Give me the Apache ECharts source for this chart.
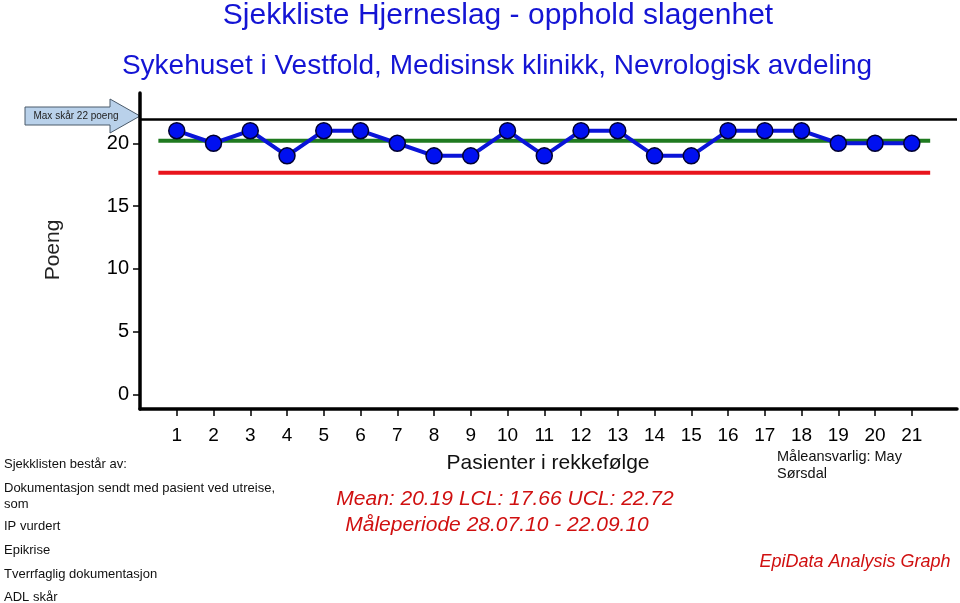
<!DOCTYPE html>
<html>
<head>
<meta charset="utf-8">
<script src="https://cdn.jsdelivr.net/npm/echarts@6/dist/echarts.min.js"></script>
<style>
html,body{margin:0;padding:0;background:#fff;}
#chart{width:960px;height:603px;}
</style>
</head>
<body>
<div id="chart"></div>
<script>
// ---- data ----
const patients = [1,2,3,4,5,6,7,8,9,10,11,12,13,14,15,16,17,18,19,20,21];
const scores   = [21,20,21,19,21,21,20,19,19,21,19,21,21,19,19,21,21,21,20,20,20];
const meanValue = [20.19];
const lclValue  = [17.66];
const uclValue  = [22.72];
const maxScore  = [21.9]; // "Max skår 22 poeng" reference line (as drawn)
const yTickLabels = [0,5,10,15,20];
const checklistItems = ["Sjekklisten består av:","Dokumentasjon sendt med pasient ved utreise,","som","IP vurdert","Epikrise","Tverrfaglig dokumentasjon","ADL skår"];

const FONT = '"Liberation Sans", Arial, Helvetica, sans-serif';
const xMin = 0, xMax = 22.23, yMin = -1.15, yMax = 24.0;

const chart = echarts.init(document.getElementById('chart'), null, {renderer:'canvas'});

const seriesData = patients.map((p,i)=>[p, scores[i]]);
const first = patients[0] - 0.5, last = patients[patients.length-1] + 0.5;

const option = {
  backgroundColor:'#ffffff',
  animation:false,
  grid:{left:140, right:3, top:93, bottom:194, containLabel:false},
  xAxis:{
    type:'value', min:xMin, max:xMax,
    axisLine:{show:true, onZero:false, lineStyle:{color:'#000', width:3.5}},
    axisTick:{show:true, length:7, lineStyle:{color:'#000', width:1.5}, customValues:patients},
    axisLabel:{show:true, margin:17, fontSize:19, color:'#000', fontFamily:FONT, customValues:patients},
    splitLine:{show:false}
  },
  yAxis:{
    type:'value', min:yMin, max:yMax,
    axisLine:{show:true, onZero:false, lineStyle:{color:'#000', width:3.5}},
    axisTick:{show:true, length:7, lineStyle:{color:'#000', width:1.5}, customValues:yTickLabels},
    axisLabel:{show:true, margin:11, fontSize:20, color:'#000', fontFamily:FONT, customValues:yTickLabels},
    splitLine:{show:false}
  },
  series:[
    {type:'line', data:[[xMin, maxScore[0]],[xMax, maxScore[0]]], symbol:'none', lineStyle:{color:'#000', width:2.5}, z:1},
    {type:'line', data:[[first, meanValue[0]],[last, meanValue[0]]], symbol:'none', lineStyle:{color:'#1f7a1f', width:4}, z:2},
    {type:'line', data:[[first, lclValue[0]],[last, lclValue[0]]], symbol:'none', lineStyle:{color:'#e8141c', width:4}, z:2},
    {type:'line', data:seriesData, symbol:'circle', symbolSize:16,
      lineStyle:{color:'#0a14d8', width:4},
      itemStyle:{color:'#0010f0', borderColor:'#000030', borderWidth:1.5}, z:3}
  ]
};

const g = [];
function txt(x,y,text,opts){
  g.push({type:'text', x:x, y:y, style:Object.assign({text:text, fill:'#000', font:'13px '+FONT, textAlign:'left', textVerticalAlign:'middle'}, opts||{})});
}
txt(498,16,'Sjekkliste Hjerneslag - opphold slagenhet',{fill:'#1414d4', font:'30px '+FONT, textAlign:'center'});
txt(497,66,'Sykehuset i Vestfold, Medisinsk klinikk, Nevrologisk avdeling',{fill:'#1414d4', font:'28px '+FONT, textAlign:'center'});
// arrow
g.push({type:'polygon', shape:{points:[[25,107],[110,107],[110,99],[140,116],[110,133],[110,125],[25,125]]}, style:{fill:'#b9d1ea', stroke:'#4a5a6a', lineWidth:1}});
txt(76,116,'Max skår 22 poeng',{fill:'#222', font:'10px '+FONT, textAlign:'center'});
// y axis name
g.push({type:'text', x:53, y:250, rotation:Math.PI/2, style:{text:'Poeng', fill:'#222', font:'21px '+FONT, textAlign:'center', textVerticalAlign:'middle'}});
txt(548,463,'Pasienter i rekkefølge',{fill:'#111', font:'21px '+FONT, textAlign:'center'});
txt(505,499,'Mean: '+meanValue[0].toFixed(2)+' LCL: '+lclValue[0].toFixed(2)+' UCL: '+uclValue[0].toFixed(2),{fill:'#d01010', font:'italic 21px '+FONT, textAlign:'center'});
txt(497,525,'Måleperiode 28.07.10 - 22.09.10',{fill:'#d01010', font:'italic 21px '+FONT, textAlign:'center'});
const ys = [464,488,504,526,550,574,597];
checklistItems.forEach((t,i)=>txt(4,ys[i],t,{fill:'#111', font:'13px '+FONT}));
txt(777,457,'Måleansvarlig: May',{fill:'#111', font:'14.5px '+FONT});
txt(777,474,'Sørsdal',{fill:'#111', font:'14.5px '+FONT});
txt(855,562,'EpiData Analysis Graph',{fill:'#d01010', font:'italic 18px '+FONT, textAlign:'center'});
option.graphic = g;

chart.setOption(option);
</script>
</body>
</html>
